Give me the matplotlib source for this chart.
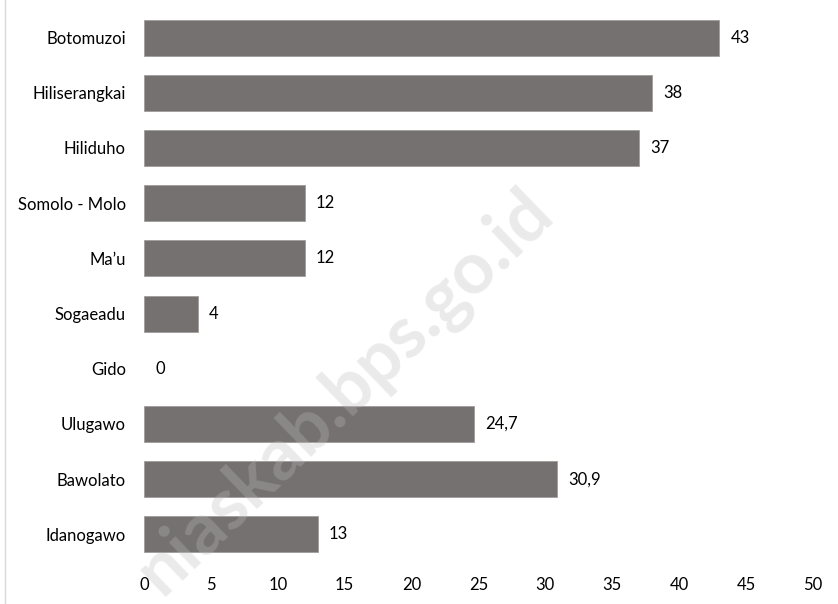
import matplotlib
matplotlib.use("Agg")
import matplotlib.pyplot as plt
from matplotlib.lines import Line2D

categories = ["Botomuzoi", "Hiliserangkai", "Hiliduho", "Somolo - Molo", "Ma\u2019u",
              "Sogaeadu", "Gido", "Ulugawo", "Bawolato", "Idanogawo"]
values = [43, 38, 37, 12, 12, 4, 0, 24.7, 30.9, 13]
xticks = [0, 5, 10, 15, 20, 25, 30, 35, 40, 45, 50]

plt.rcParams['font.family'] = ['Lato', 'DejaVu Sans']

W, H = 838, 604
fig = plt.figure(figsize=(W / 100, H / 100), dpi=100)
ax = fig.add_axes([144 / W, 1 - 562 / H, (813 - 144) / W, (562 - 10) / H])

color = "#767171"
ypos = list(range(len(categories)))
lw = [0.6 if v > 0 else 0 for v in values]
ax.barh(ypos, values, height=0.65, color=color, edgecolor="#a09c9c", linewidth=lw)
ax.set_ylim(len(categories) - 0.5, -0.5)
ax.set_xlim(0, 50)
ax.set_yticks(ypos)
ax.set_yticklabels(categories, fontsize=12, color="#000000")
ax.set_xticks(xticks)
ax.set_xticklabels([str(t) for t in xticks], fontsize=12, color="#000000")
ax.tick_params(axis='y', length=0, pad=13)
ax.tick_params(axis='x', length=0, pad=11)
for s in ax.spines.values():
    s.set_visible(False)

def fmt(v):
    if float(v).is_integer():
        return str(int(v))
    return str(v).replace('.', ',')

for y, v in zip(ypos, values):
    ax.annotate(fmt(v), xy=(v, y), xytext=(8, 0), textcoords='offset points',
                ha='left', va='center', fontsize=12, color="#000000")

# left frame line
fig.add_artist(Line2D([5 / W, 5 / W], [0, 1], transform=fig.transFigure,
                      color="#d9d9d9", linewidth=1))

# watermark
fig.text(345 / W, 1 - 392 / H, "niaskab.bps.go.id", rotation=44, ha='center', va='center',
         fontsize=52, fontweight='bold', color="#bbbbbb", alpha=0.3, zorder=10)

fig.savefig("out.png", dpi=100)
